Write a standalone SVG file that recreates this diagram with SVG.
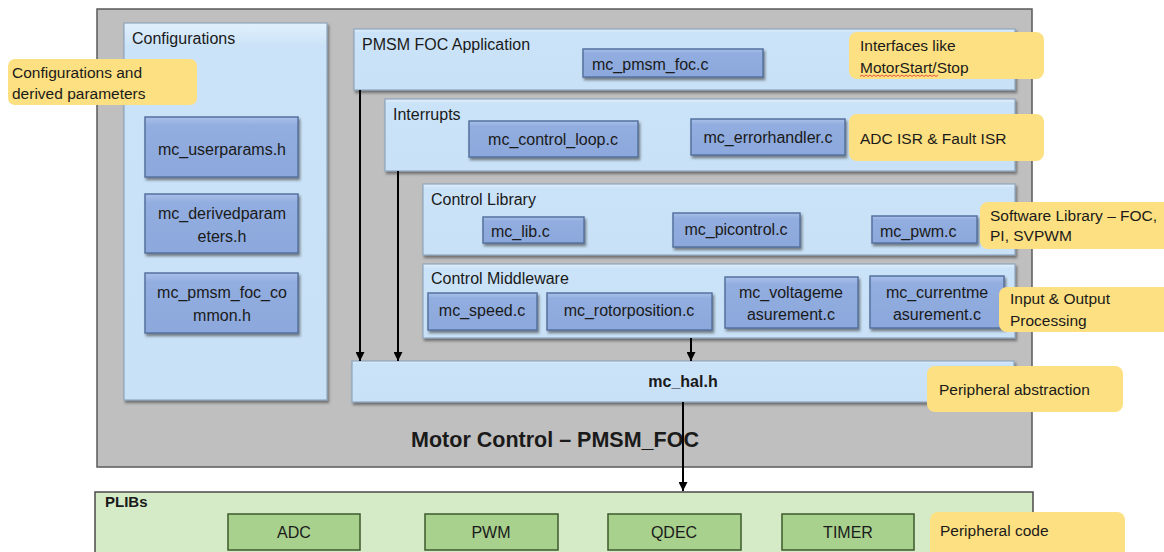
<svg xmlns="http://www.w3.org/2000/svg" width="1164" height="552" viewBox="0 0 1164 552">
<style>
.panel{fill:url(#gp);stroke:#8FA6BD;stroke-width:1.2}
.file{fill:url(#gf);stroke:#56729E;stroke-width:1.5}
.plib{fill:#A9D18E;stroke:#3D5A2B;stroke-width:1.5}
.note{fill:#FDE081;stroke:none}
.t{font-family:"Liberation Sans",Arial,sans-serif;font-size:16px;fill:#1a1a1a}
.n{font-family:"Liberation Sans",Arial,sans-serif;font-size:15.5px;fill:#1a1a1a}
.c{text-anchor:middle}
.b{font-weight:bold}
.conn{stroke:#000;stroke-width:2;fill:none}
</style>
<defs>
<linearGradient id="gp" x1="0" y1="0" x2="0" y2="1">
<stop offset="0" stop-color="#E2F0FC"/>
<stop offset="0.06" stop-color="#CBE3F8"/>
<stop offset="1" stop-color="#C8E1F7"/>
</linearGradient>
<linearGradient id="gf" x1="0" y1="0" x2="0" y2="1">
<stop offset="0" stop-color="#A8C0EA"/>
<stop offset="0.15" stop-color="#92ADDF"/>
<stop offset="1" stop-color="#8CA8DC"/>
</linearGradient>
<filter id="sh" x="-10%" y="-20%" width="130%" height="160%">
<feDropShadow dx="1.5" dy="2.5" stdDeviation="1.2" flood-color="#3a3a3a" flood-opacity="0.6"/>
</filter>
<marker id="ah" viewBox="0 0 10 10" refX="10" refY="5" markerWidth="4.5" markerHeight="4.5" orient="auto" markerUnits="strokeWidth">
<path d="M0,0 L10,5 L0,10 z" fill="#000"/>
</marker>
</defs>
<rect width="1164" height="552" fill="#fff"/>

<g id="motor-control">
<rect x="97" y="9" width="935" height="458" fill="#BFBFBF" stroke="#5a5a5a" stroke-width="1.5"/>
<text class="t b c" x="555" y="447" style="font-size:21.5px">Motor Control – PMSM_FOC</text>
</g>

<g id="configurations">
<rect class="panel" x="124" y="23" width="203" height="377" filter="url(#sh)"/>
<text class="t" x="132" y="44">Configurations</text>
</g>
<g id="mc_userparams">
<rect class="file" x="145" y="117" width="153" height="60" filter="url(#sh)"/>
<text class="t c" x="222" y="155">mc_userparams.h</text>
</g>
<g id="mc_derivedparameters">
<rect class="file" x="145" y="194" width="153" height="59" filter="url(#sh)"/>
<text class="t c" x="222" y="219">mc_derivedparam</text>
<text class="t c" x="222" y="242">eters.h</text>
</g>
<g id="mc_pmsm_foc_common">
<rect class="file" x="145" y="273" width="153" height="60" filter="url(#sh)"/>
<text class="t c" x="222" y="298">mc_pmsm_foc_co</text>
<text class="t c" x="222" y="321">mmon.h</text>
</g>

<g id="pmsm-foc-application">
<rect class="panel" x="354" y="29" width="661" height="61" filter="url(#sh)"/>
<text class="t" x="362" y="50">PMSM FOC Application</text>
</g>
<g id="mc_pmsm_foc">
<rect class="file" x="583" y="49" width="180" height="28" filter="url(#sh)"/>
<text class="t" x="592" y="70">mc_pmsm_foc.c</text>
</g>

<g id="interrupts">
<rect class="panel" x="385" y="99" width="630" height="72" filter="url(#sh)"/>
<text class="t" x="393" y="120">Interrupts</text>
</g>
<g id="mc_control_loop">
<rect class="file" x="469" y="121" width="169" height="36" filter="url(#sh)"/>
<text class="t c" x="553" y="145">mc_control_loop.c</text>
</g>
<g id="mc_errorhandler">
<rect class="file" x="691" y="119" width="154" height="36" filter="url(#sh)"/>
<text class="t c" x="768" y="143">mc_errorhandler.c</text>
</g>

<g id="control-library">
<rect class="panel" x="423" y="184" width="592" height="71" filter="url(#sh)"/>
<text class="t" x="431" y="205">Control Library</text>
</g>
<g id="mc_lib">
<rect class="file" x="483" y="217" width="101" height="26" filter="url(#sh)"/>
<text class="t" x="491" y="237">mc_lib.c</text>
</g>
<g id="mc_picontrol">
<rect class="file" x="673" y="213" width="127" height="34" filter="url(#sh)"/>
<text class="t c" x="736" y="235">mc_picontrol.c</text>
</g>
<g id="mc_pwm">
<rect class="file" x="872" y="216" width="105" height="27" filter="url(#sh)"/>
<text class="t" x="880" y="237">mc_pwm.c</text>
</g>

<g id="control-middleware">
<rect class="panel" x="423" y="264" width="592" height="74" filter="url(#sh)"/>
<text class="t" x="431" y="284">Control Middleware</text>
</g>
<g id="mc_speed">
<rect class="file" x="428" y="293" width="109" height="37" filter="url(#sh)"/>
<text class="t c" x="482" y="316">mc_speed.c</text>
</g>
<g id="mc_rotorposition">
<rect class="file" x="547" y="293" width="165" height="37" filter="url(#sh)"/>
<text class="t c" x="629" y="316">mc_rotorposition.c</text>
</g>
<g id="mc_voltagemeasurement">
<rect class="file" x="725" y="277" width="133" height="51" filter="url(#sh)"/>
<text class="t c" x="791" y="298">mc_voltageme</text>
<text class="t c" x="791" y="320">asurement.c</text>
</g>
<g id="mc_currentmeasurement">
<rect class="file" x="870" y="276" width="134" height="52" filter="url(#sh)"/>
<text class="t c" x="937" y="298">mc_currentme</text>
<text class="t c" x="937" y="320">asurement.c</text>
</g>

<g id="mc_hal">
<rect class="panel" x="352" y="361" width="662" height="41" filter="url(#sh)"/>
<text class="t b c" x="683" y="387">mc_hal.h</text>
</g>

<g id="plibs">
<rect x="95" y="492" width="938" height="70" fill="#D5EBC8" stroke="#4a4a4a" stroke-width="1.5"/>
<text class="t b" x="105" y="507" style="font-size:15px">PLIBs</text>
</g>
<g id="adc">
<rect class="plib" x="228" y="514" width="132" height="36"/>
<text class="t c" x="294" y="538">ADC</text>
</g>
<g id="pwm">
<rect class="plib" x="425" y="514" width="133" height="36"/>
<text class="t c" x="491" y="538">PWM</text>
</g>
<g id="qdec">
<rect class="plib" x="608" y="514" width="133" height="36"/>
<text class="t c" x="674" y="538">QDEC</text>
</g>
<g id="timer">
<rect class="plib" x="782" y="514" width="132" height="36"/>
<text class="t c" x="848" y="538">TIMER</text>
</g>

<g id="connectors">
<line class="conn" x1="360" y1="90" x2="360" y2="361" marker-end="url(#ah)"/>
<line class="conn" x1="398" y1="171" x2="398" y2="361" marker-end="url(#ah)"/>
<line class="conn" x1="691" y1="338" x2="691" y2="361" marker-end="url(#ah)"/>
<line class="conn" x1="683" y1="402" x2="683" y2="491" marker-end="url(#ah)"/>
</g>

<g id="note-configurations">
<rect class="note" x="8" y="59" width="189" height="46" rx="7"/>
<text class="n" x="12" y="78">Configurations and</text>
<text class="n" x="12" y="99">derived parameters</text>
</g>
<g id="note-interfaces">
<rect class="note" x="849" y="32" width="195" height="47" rx="8"/>
<text class="n" x="860" y="51">Interfaces like</text>
<text class="n" x="860" y="73">MotorStart/Stop</text>
<path d="M860,76.5 l2,-1.5 l2,1.5 l2,-1.5 l2,1.5 l2,-1.5 l2,1.5 l2,-1.5 l2,1.5 l2,-1.5 l2,1.5 l2,-1.5 l2,1.5 l2,-1.5 l2,1.5 l2,-1.5 l2,1.5 l2,-1.5 l2,1.5 l2,-1.5 l2,1.5 l2,-1.5 l2,1.5 l2,-1.5 l2,1.5 l2,-1.5 l2,1.5 l2,-1.5 l2,1.5 l2,-1.5 l2,1.5 l2,-1.5 l2,1.5 l2,-1.5 l2,1.5 l2,-1.5 l2,1.5 l2,-1.5 l2,1.5 l2,-1.5" fill="none" stroke="#e03030" stroke-width="0.8"/>
</g>
<g id="note-isr">
<rect class="note" x="849" y="114" width="195" height="47" rx="8"/>
<text class="n" x="860" y="144">ADC ISR &amp; Fault ISR</text>
</g>
<g id="note-software-library">
<rect class="note" x="980" y="202" width="192" height="47" rx="8"/>
<text class="n" x="990" y="221">Software Library – FOC,</text>
<text class="n" x="990" y="241">PI, SVPWM</text>
</g>
<g id="note-io">
<rect class="note" x="999" y="287" width="173" height="45" rx="8"/>
<text class="n" x="1010" y="304">Input &amp; Output</text>
<text class="n" x="1010" y="326">Processing</text>
</g>
<g id="note-peripheral-abstraction">
<rect class="note" x="927" y="366" width="196" height="46" rx="8"/>
<text class="n" x="939" y="395">Peripheral abstraction</text>
</g>
<g id="note-peripheral-code">
<rect class="note" x="930" y="512" width="195" height="50" rx="8"/>
<text class="n" x="940" y="536">Peripheral code</text>
</g>
</svg>
